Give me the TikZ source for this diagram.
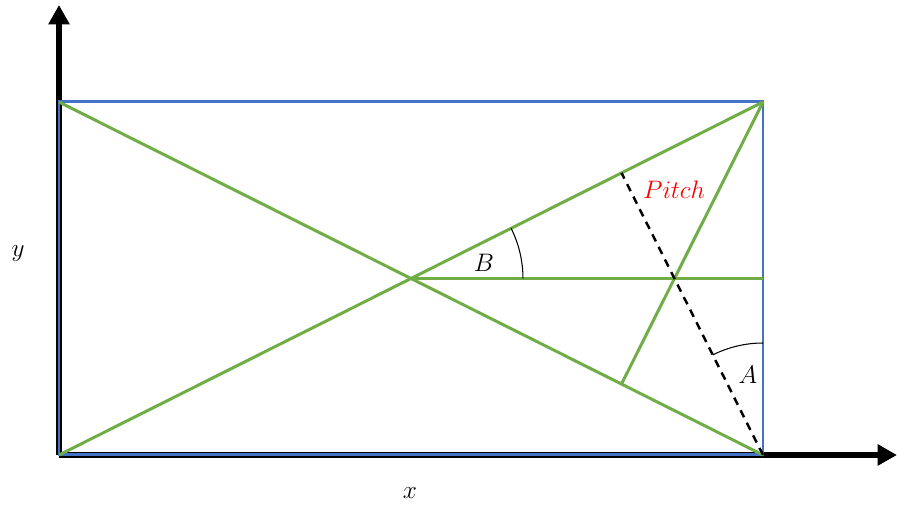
\documentclass[tikz,border=0pt]{standalone}
\usetikzlibrary{calc,arrows.meta}
\definecolor{rectblue}{HTML}{4472C4}
\definecolor{diaggreen}{HTML}{70AD47}
\begin{document}
\begin{tikzpicture}[x=0.02cm,y=0.02cm,
  axis/.style={line width=3.4pt,-{Triangle[width=11.5pt,length=11pt]}},
  frame/.style={draw=rectblue,line width=1.7pt},
  gline/.style={draw=diaggreen,line width=1.7pt},
  pitchline/.style={draw=black,line width=1.4pt,dash pattern=on 4.5pt off 3.5pt},
  anglearc/.style={draw=black,line width=0.6pt},
  lbl/.style={font=\fontsize{15.5}{18}\selectfont,inner sep=0pt}]
\useasboundingbox (0,0) rectangle (897,506);
\coordinate (BL) at (59,51);
\coordinate (TL) at (59,404);
\coordinate (TR) at (763,404);
\coordinate (BR) at (763,51);
\coordinate (C) at (411,227.5);
\coordinate (M) at (763,227.5);
\coordinate (YT) at (59,501);
\coordinate (XT) at (897,51);
% axes
\draw[axis] (BL) -- (YT);
\draw[axis] (BL) -- (XT);
% frame
\draw[frame] (BL) rectangle (TR);
% green lines
\draw[gline] (TL) -- (BR);
\draw[gline] (BL) -- (TR);
\draw[gline] (C) -- (M);
\coordinate (F1) at ($(TL)!(TR)!(BR)$);
\coordinate (F2) at ($(BL)!(BR)!(TR)$);
\draw[gline] (TR) -- (F1);
\draw[pitchline] (BR) -- (F2);
% angle arcs
\draw[anglearc] ($(C)+(2.24cm,0)$) arc[start angle=0,end angle=26.63,radius=2.24cm];
\draw[anglearc] ($(BR)+(0,2.24cm)$) arc[start angle=90,end angle=116.63,radius=2.24cm];
% labels
\node[lbl] (ly) at (18,252) {$y$};
\node[lbl] (lx) at (410,13) {$x$};
\node[lbl] (lB) at (484,243) {$B$};
\node[lbl] (lA) at (748,131) {$A$};
\node[lbl,text=red] (lP) at (674,316) {$Pitch$};
\end{tikzpicture}
\end{document}
